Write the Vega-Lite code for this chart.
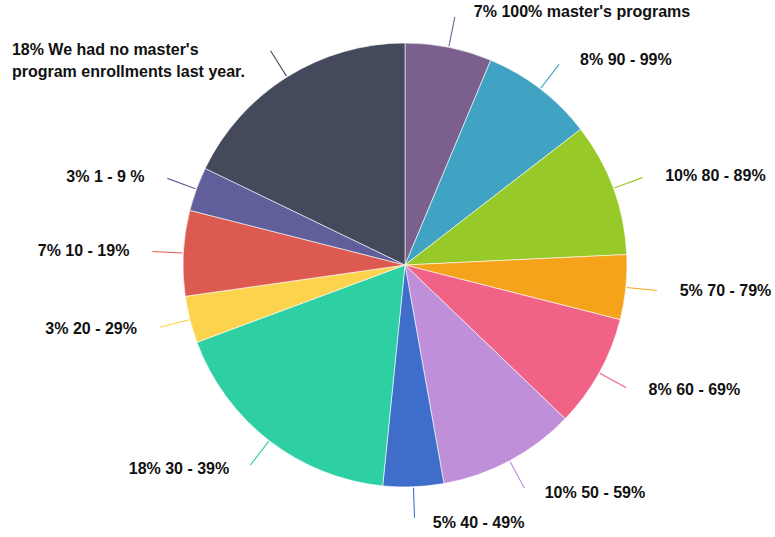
{
  "$schema": "https://vega.github.io/schema/vega-lite/v6.json",
  "width": 740,
  "height": 530,
  "autosize": {"type": "none"},
  "padding": {"left": 35, "top": 0, "right": 0, "bottom": 7},
  "background": "white",
  "config": {"view": {"stroke": null}},
  "data": {
    "values": [
      {"idx": 1, "category": "100% master's programs", "label": "7% 100% master's programs", "value": 6.3},
      {"idx": 2, "category": "90 - 99%", "label": "8% 90 - 99%", "value": 8.2},
      {"idx": 3, "category": "80 - 89%", "label": "10% 80 - 89%", "value": 9.7},
      {"idx": 4, "category": "70 - 79%", "label": "5% 70 - 79%", "value": 4.7},
      {"idx": 5, "category": "60 - 69%", "label": "8% 60 - 69%", "value": 8.2},
      {"idx": 6, "category": "50 - 59%", "label": "10% 50 - 59%", "value": 10.0},
      {"idx": 7, "category": "40 - 49%", "label": "5% 40 - 49%", "value": 4.4},
      {"idx": 8, "category": "30 - 39%", "label": "18% 30 - 39%", "value": 17.7},
      {"idx": 9, "category": "20 - 29%", "label": "3% 20 - 29%", "value": 3.4},
      {"idx": 10, "category": "10 - 19%", "label": "7% 10 - 19%", "value": 6.2},
      {"idx": 11, "category": "1 - 9 %", "label": "3% 1 - 9 %", "value": 3.2},
      {"idx": 12, "category": "We had no master's program enrollments last year.", "label": "18% We had no master's\nprogram enrollments last year.", "value": 17.8}
    ]
  },
  "encoding": {
    "theta": {"field": "value", "type": "quantitative", "stack": true},
    "order": {"field": "idx", "type": "quantitative"}
  },
  "layer": [
    {
      "mark": {"type": "arc", "radius": 222, "stroke": "white", "strokeWidth": 0.6},
      "encoding": {
        "color": {
          "field": "category",
          "type": "nominal",
          "legend": null,
          "scale": {
            "domain": ["100% master's programs", "90 - 99%", "80 - 89%", "70 - 79%", "60 - 69%", "50 - 59%", "40 - 49%", "30 - 39%", "20 - 29%", "10 - 19%", "1 - 9 %", "We had no master's program enrollments last year."],
            "range": ["#7b5f8c", "#41a3c4", "#97c928", "#f5a31b", "#f06386", "#bf8fd9", "#3e6dca", "#2dcfa3", "#fbd34d", "#dd5a51", "#615f9b", "#444a5c"]
          }
        }
      }
    },
    {
      "mark": {"type": "arc", "radius": 253, "radius2": 223, "padAngle": 1.0, "filled": false, "strokeWidth": 1.1},
      "encoding": {
        "color": {"field": "category", "type": "nominal", "legend": null}
      }
    },
    {
      "mark": {"type": "text", "radius": 258, "align": "left", "baseline": "middle", "dx": 18, "font": "Liberation Sans", "fontWeight": "bold", "fontSize": 16, "fill": "#111111"},
      "encoding": {
        "text": {"condition": {"test": "datum.idx <= 7", "field": "label", "type": "nominal"}, "value": ""}
      }
    },
    {
      "mark": {"type": "text", "radius": 258, "align": "right", "baseline": "middle", "dx": -18, "font": "Liberation Sans", "fontWeight": "bold", "fontSize": 16, "fill": "#111111"},
      "encoding": {
        "text": {"condition": {"test": "datum.idx > 7 && datum.idx < 12", "field": "label", "type": "nominal"}, "value": ""}
      }
    },
    {
      "mark": {"type": "text", "radius": 258, "align": "left", "baseline": "middle", "dx": -256, "dy": 4, "font": "Liberation Sans", "fontWeight": "bold", "fontSize": 16, "lineBreak": "\n", "lineHeight": 22, "fill": "#111111"},
      "encoding": {
        "text": {"condition": {"test": "datum.idx == 12", "field": "label", "type": "nominal"}, "value": ""}
      }
    }
  ]
}
